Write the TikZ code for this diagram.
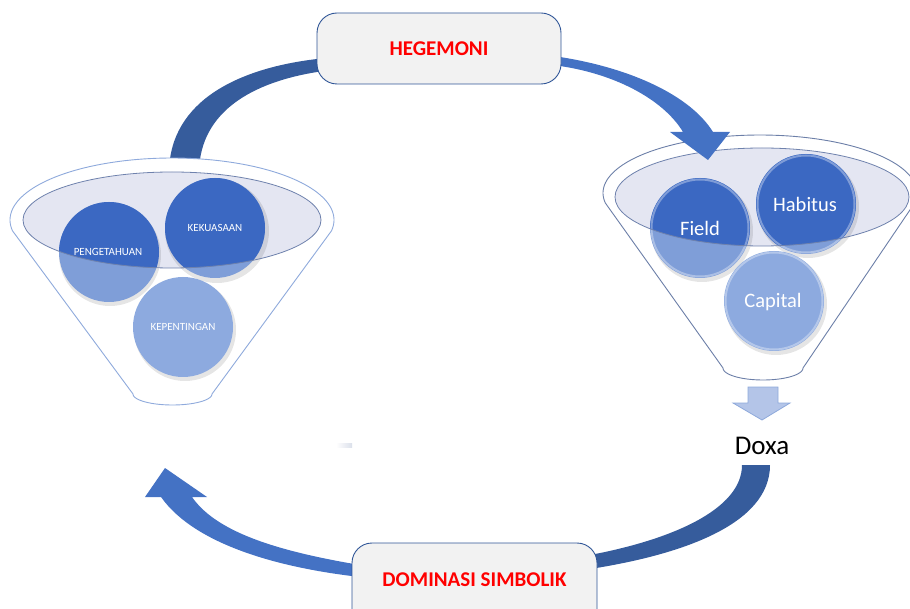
\documentclass[tikz,border=0pt]{standalone}
\usepackage{fontspec}
\setmainfont{Carlito}
\definecolor{darkband}{HTML}{365C9C}
\definecolor{blueband}{HTML}{4472C4}
\definecolor{boxfill}{HTML}{F2F2F2}
\definecolor{boxline}{HTML}{2F5597}
\definecolor{lav}{HTML}{E4E6F2}
\definecolor{ellline}{HTML}{6F82AD}
\definecolor{funl}{HTML}{8FAADC}
\definecolor{funr}{HTML}{6C7FA8}
\definecolor{cdark}{HTML}{3B68C2}
\definecolor{clight}{HTML}{7F9ED8}
\definecolor{cpale}{HTML}{8DAADF}
\definecolor{arrl}{HTML}{B4C5E8}
\definecolor{arrline}{HTML}{8EA9DB}
\definecolor{txtred}{HTML}{FF0000}
\tikzset{
  boxsty/.style={draw=boxline, line width=0.9pt, fill=boxfill, rounded corners=20pt},
  boxtxt/.style={text=txtred, font=\fontsize{21}{25}\selectfont\bfseries},
  circL/.style={circle, fill=clight, minimum size=100pt, inner sep=0pt},
  circP/.style={circle, fill=cpale, minimum size=100pt, inner sep=0pt},
  smalllbl/.style={text=white, font=\fontsize{11}{13}\selectfont},
  biglbl/.style={text=white, font=\fontsize{20.5}{24}\selectfont},
  ellsty/.style={draw=ellline, line width=0.8pt, fill=lav},
  shadowsty/.style={fill=black, opacity=0.10},
  rimsty/.style={draw=white, opacity=0.35, line width=2pt},
}
\begin{document}
\begin{tikzpicture}[x=1pt, y=-1pt]
\useasboundingbox (0,0) rectangle (910,609);
\clip (0,0) rectangle (910,609);

% ---- top-left dark band (under funnel and box)
\coordinate (b1a) at (325,58);
\coordinate (b1b) at (325,72);
\fill[darkband] (b1a) -- (317,59) .. controls (240,68) and (170,100) .. (169,172)
  -- (199,172) .. controls (200,110) and (255,82) .. (317,72) -- (b1b) -- cycle;

% ---- left funnel
\draw[funl, line width=0.9pt, fill=white] (133,394)
  -- plot[domain=190:-10, samples=90] ({172+162*cos(\x)}, {220-62*sin(\x)})
  -- (212,394)
  -- plot[domain=0:-180, samples=40] ({172.5+39.5*cos(\x)}, {394-11*sin(\x)})
  -- cycle;
\fill[lav] (172,220) ellipse [x radius=149pt, y radius=48pt];
% shadows
\fill[shadowsty] (110,255) circle (51pt);
\fill[shadowsty] (217,231) circle (52pt);
\fill[shadowsty] (185,330) circle (51pt);
\node[circL] (pe) at (109,252) {};
\node[circL] (ke) at (215,228) {};
\node[circP] (kp) at (183,327) {};
\begin{scope}
  \clip (172,220) ellipse [x radius=149pt, y radius=48pt];
  \fill[cdark] (pe.center) circle (50pt);
  \fill[cdark] (ke.center) circle (50pt);
\end{scope}
\draw[ellline, line width=0.8pt] (172,220) ellipse [x radius=149pt, y radius=48pt];
\node[smalllbl] (pet) at (108,252) {PENGETAHUAN};
\node[smalllbl] (ket) at (215,228) {KEKUASAAN};
\node[smalllbl] (kpt) at (183,327) {KEPENTINGAN};

% ---- right funnel
\draw[funr, line width=0.9pt, fill=white] (723,368)
  -- plot[domain=190:-10, samples=90] ({760+157*cos(\x)}, {193-58*sin(\x)})
  -- (803,368)
  -- plot[domain=0:-180, samples=40] ({763+40*cos(\x)}, {368-12*sin(\x)})
  -- cycle;
\fill[lav] (762,197) ellipse [x radius=147pt, y radius=49pt];
\fill[shadowsty] (702,231) circle (51pt);
\fill[shadowsty] (808,207) circle (51pt);
\fill[shadowsty] (776,304) circle (51pt);
\node[circL] (fi) at (700,228) {};
\node[circL] (ha) at (806,204) {};
\node[circP] (ca) at (774,301) {};
\begin{scope}
  \clip (762,197) ellipse [x radius=147pt, y radius=49pt];
  \fill[cdark] (fi.center) circle (50pt);
  \fill[cdark] (ha.center) circle (50pt);
\end{scope}
\draw[rimsty] (fi.center) circle (48.5pt);
\draw[rimsty] (ha.center) circle (48.5pt);
\draw[rimsty] (ca.center) circle (48.5pt);
\draw[ellline, line width=0.8pt] (762,197) ellipse [x radius=147pt, y radius=49pt];
\node[biglbl] (fit) at (700,228) {Field};
\node[biglbl] (hat) at (805,204) {Habitus};
\node[biglbl] (cat) at (773,302) {Capital};

% ---- down arrow and Doxa
\draw[draw=arrline, fill=arrl, line width=0.8pt] (748,387) -- (778,387) -- (778,403)
  -- (790,403) -- (762,420) -- (733,403) -- (748,403) -- cycle;
\node[font=\fontsize{27}{30}\selectfont] (doxa) at (762,446) {Doxa};

% ---- small artifact
\shade[left color=white, right color=ellline!25] (336,443) rectangle (352,447);

% ---- top-right blue arrow
\fill[blueband] (553,57) -- (560,57) .. controls (630,68) and (690,95) .. (713,132)
  -- (730,132) -- (708,160) -- (670,132) -- (683,132)
  .. controls (665,102) and (620,75) .. (560,66) -- (553,66) -- cycle;

% ---- bottom-right dark band
\fill[darkband] (742,465) -- (770,465) .. controls (770,525) and (680,555) .. (590,569)
  -- (590,555) .. controls (670,540) and (742,510) .. (742,465) -- cycle;

% ---- bottom-left blue arrow
\fill[blueband] (360,565) .. controls (270,550) and (215,530) .. (192,497)
  -- (207,497) -- (165,468) -- (145,497) -- (161,497)
  .. controls (195,545) and (280,568) .. (360,577) -- cycle;

% ---- boxes
\node[boxsty, minimum width=244pt, minimum height=71pt] (heg) at (439,48.5) {};
\node[boxtxt] (hegt) at (439,49) {HEGEMONI};
\node[boxsty, minimum width=245pt, minimum height=90pt] (dom) at (474.5,588) {};
\node[boxtxt] (domt) at (474.5,580) {DOMINASI SIMBOLIK};
\end{tikzpicture}
\end{document}
